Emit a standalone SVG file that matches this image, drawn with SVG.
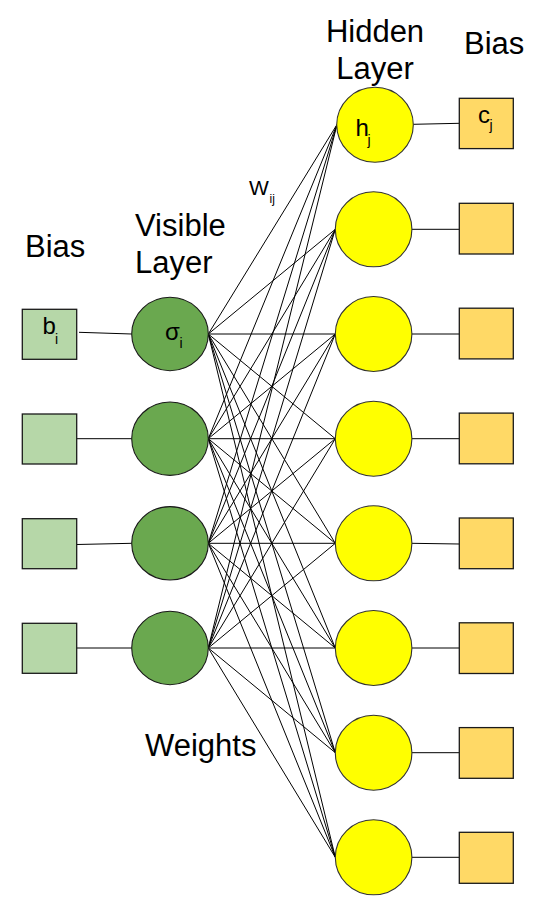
<svg xmlns="http://www.w3.org/2000/svg" width="551" height="911" viewBox="0 0 551 911">
<style>
text{font-family:"Liberation Sans",Arial,sans-serif;fill:#000}
.lbl{font-size:31px}
.sym{font-size:24px}
.sub{font-size:14px}
.e line{stroke:#000;stroke-width:1}
.vb{fill:#b6d7a8;stroke:#1a1a1a;stroke-width:1.3}
.v{fill:#6aa84f;stroke:#1a1a1a;stroke-width:1.1}
.h{fill:#ffff00;stroke:#333;stroke-width:1.1}
.hb{fill:#ffd966;stroke:#1a1a1a;stroke-width:1.3}
</style>
<rect width="551" height="911" fill="#fff"/>
<g id="labels">
<text class="lbl" x="25" y="257">Bias</text>
<text class="lbl" x="135" y="236">Visible</text>
<text class="lbl" x="135" y="273">Layer</text>
<text class="lbl" x="375" y="42" text-anchor="middle">Hidden</text>
<text class="lbl" x="375" y="79" text-anchor="middle">Layer</text>
<text class="lbl" x="464" y="54">Bias</text>
<text x="249" y="195" font-size="21">W</text>
<text x="269.5" y="203" font-size="12">ij</text>
<text class="lbl" x="145" y="756">Weights</text>
</g>
<g id="connectors" class="e">
<line x1="79" y1="332.3" x2="131.7" y2="334"/>
<line x1="76.7" y1="438.7" x2="131.7" y2="438.7"/>
<line x1="76.7" y1="544.5" x2="131.7" y2="543.3"/>
<line x1="76.7" y1="648" x2="131.7" y2="648"/>
<line x1="413.3" y1="124.3" x2="459.3" y2="123.3"/>
<line x1="411.8" y1="229.3" x2="459.3" y2="229.3"/>
<line x1="411.8" y1="334" x2="459.3" y2="334"/>
<line x1="411.8" y1="438.7" x2="459.3" y2="438.7"/>
<line x1="411.8" y1="543.3" x2="459.3" y2="544"/>
<line x1="411.8" y1="648" x2="459.3" y2="648"/>
<line x1="411.8" y1="752.7" x2="459.3" y2="752.7"/>
<line x1="411.8" y1="857.3" x2="459.3" y2="857.3"/>
<line x1="208.3" y1="334" x2="337" y2="124.5"/>
<line x1="208.3" y1="334" x2="335.3" y2="229.3"/>
<line x1="208.3" y1="334" x2="335.3" y2="334"/>
<line x1="208.3" y1="334" x2="335.3" y2="438.7"/>
<line x1="208.3" y1="334" x2="335.3" y2="543.3"/>
<line x1="208.3" y1="334" x2="335.3" y2="648"/>
<line x1="208.3" y1="334" x2="335.3" y2="752.7"/>
<line x1="208.3" y1="334" x2="335.3" y2="857.3"/>
<line x1="208.3" y1="438.7" x2="337" y2="124.5"/>
<line x1="208.3" y1="438.7" x2="335.3" y2="229.3"/>
<line x1="208.3" y1="438.7" x2="335.3" y2="334"/>
<line x1="208.3" y1="438.7" x2="335.3" y2="438.7"/>
<line x1="208.3" y1="438.7" x2="335.3" y2="543.3"/>
<line x1="208.3" y1="438.7" x2="335.3" y2="648"/>
<line x1="208.3" y1="438.7" x2="335.3" y2="752.7"/>
<line x1="208.3" y1="438.7" x2="335.3" y2="857.3"/>
<line x1="208.3" y1="543.3" x2="337" y2="124.5"/>
<line x1="208.3" y1="543.3" x2="335.3" y2="229.3"/>
<line x1="208.3" y1="543.3" x2="335.3" y2="334"/>
<line x1="208.3" y1="543.3" x2="335.3" y2="438.7"/>
<line x1="208.3" y1="543.3" x2="335.3" y2="543.3"/>
<line x1="208.3" y1="543.3" x2="335.3" y2="648"/>
<line x1="208.3" y1="543.3" x2="335.3" y2="752.7"/>
<line x1="208.3" y1="543.3" x2="335.3" y2="857.3"/>
<line x1="208.3" y1="648" x2="337" y2="124.5"/>
<line x1="208.3" y1="648" x2="335.3" y2="229.3"/>
<line x1="208.3" y1="648" x2="335.3" y2="334"/>
<line x1="208.3" y1="648" x2="335.3" y2="438.7"/>
<line x1="208.3" y1="648" x2="335.3" y2="543.3"/>
<line x1="208.3" y1="648" x2="335.3" y2="648"/>
<line x1="208.3" y1="648" x2="335.3" y2="752.7"/>
<line x1="208.3" y1="648" x2="335.3" y2="857.3"/>
</g>
<g id="vb1"><rect class="vb" x="22.3" y="309.3" width="54.4" height="50"/><text class="sym" x="42.5" y="334">b</text><text class="sub" x="55" y="344">i</text></g>
<g id="vb2"><rect class="vb" x="22.3" y="414" width="54.4" height="50"/></g>
<g id="vb3"><rect class="vb" x="22.3" y="518.7" width="54.4" height="50"/></g>
<g id="vb4"><rect class="vb" x="22.3" y="623.3" width="54.4" height="50"/></g>
<g id="v1"><ellipse class="v" cx="170" cy="334" rx="38.3" ry="36.7"/><text class="sym" x="165" y="339.5">σ</text><text class="sub" x="179.5" y="348">i</text></g>
<g id="v2"><ellipse class="v" cx="170" cy="438.7" rx="38.3" ry="36.7"/></g>
<g id="v3"><ellipse class="v" cx="170" cy="543.3" rx="38.3" ry="36.7"/></g>
<g id="v4"><ellipse class="v" cx="170" cy="648" rx="38.3" ry="36.7"/></g>
<g id="h1"><ellipse class="h" cx="375" cy="124.8" rx="38.3" ry="37.5"/><text class="sym" x="355.5" y="136">h</text><text class="sub" x="367.5" y="145">j</text></g>
<g id="h2"><ellipse class="h" cx="373.6" cy="229.3" rx="38.3" ry="37.5"/></g>
<g id="h3"><ellipse class="h" cx="373.6" cy="334" rx="38.3" ry="37.5"/></g>
<g id="h4"><ellipse class="h" cx="373.6" cy="438.7" rx="38.3" ry="37.5"/></g>
<g id="h5"><ellipse class="h" cx="373.6" cy="543.3" rx="38.3" ry="37.5"/></g>
<g id="h6"><ellipse class="h" cx="373.6" cy="648" rx="38.3" ry="37.5"/></g>
<g id="h7"><ellipse class="h" cx="373.6" cy="752.7" rx="38.3" ry="37.5"/></g>
<g id="h8"><ellipse class="h" cx="373.6" cy="857.3" rx="38.3" ry="37.5"/></g>
<g id="hb1"><rect class="hb" x="459.3" y="98.3" width="54" height="50.3"/><text class="sym" x="478" y="122.7">c</text><text class="sub" x="489.5" y="130">j</text></g>
<g id="hb2"><rect class="hb" x="459.3" y="203.3" width="54" height="50.7"/></g>
<g id="hb3"><rect class="hb" x="459.3" y="308.2" width="54" height="50.7"/></g>
<g id="hb4"><rect class="hb" x="459.3" y="413.1" width="54" height="50.7"/></g>
<g id="hb5"><rect class="hb" x="459.3" y="518" width="54" height="50.7"/></g>
<g id="hb6"><rect class="hb" x="459.3" y="622.8" width="54" height="50.7"/></g>
<g id="hb7"><rect class="hb" x="459.3" y="727.6" width="54" height="50.7"/></g>
<g id="hb8"><rect class="hb" x="459.3" y="832.3" width="54" height="51"/></g>
</svg>
